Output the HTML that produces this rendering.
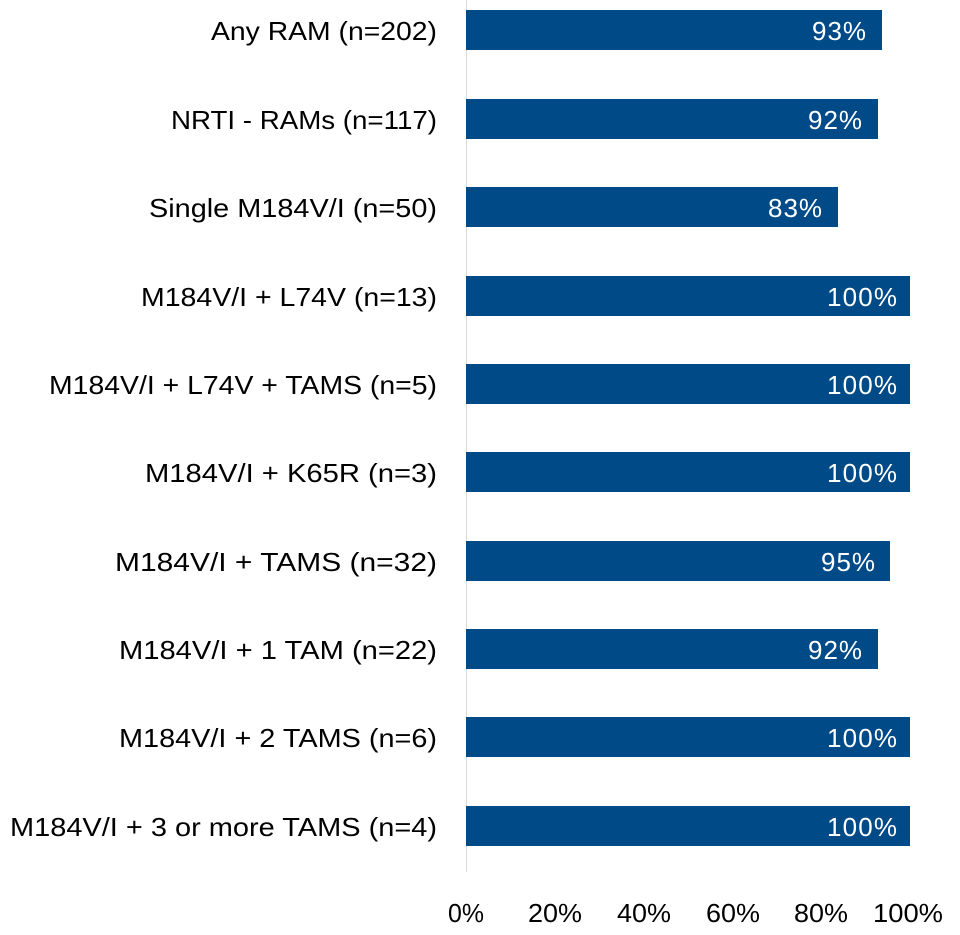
<!DOCTYPE html>
<html><head><style>
html,body{margin:0;padding:0;background:#fff;}
svg{display:block;font-family:"Liberation Sans",sans-serif;}
</style></head><body>
<svg width="960" height="935" xmlns="http://www.w3.org/2000/svg">
<line x1="466.5" y1="0" x2="466.5" y2="872" stroke="#d9d9d9" stroke-width="1"/>
<g fill="#004a87">
<rect x="466" y="10" width="416" height="40"/>
<rect x="466" y="99" width="412" height="40"/>
<rect x="466" y="187" width="372" height="40"/>
<rect x="466" y="276" width="444" height="40"/>
<rect x="466" y="364" width="444" height="40"/>
<rect x="466" y="452" width="444" height="40"/>
<rect x="466" y="541" width="424" height="40"/>
<rect x="466" y="629" width="412" height="40"/>
<rect x="466" y="717" width="444" height="40"/>
<rect x="466" y="806" width="444" height="40"/>
</g>
<g fill="#fff" font-size="26" text-anchor="end" lengthAdjust="spacingAndGlyphs">
<text x="866" y="40" textLength="54">93%</text>
<text x="862" y="129" textLength="54">92%</text>
<text x="822" y="217" textLength="54">83%</text>
<text x="897" y="306" textLength="70">100%</text>
<text x="897" y="394" textLength="70">100%</text>
<text x="897" y="482" textLength="70">100%</text>
<text x="875" y="571" textLength="54">95%</text>
<text x="862" y="659" textLength="54">92%</text>
<text x="897" y="747" textLength="70">100%</text>
<text x="897" y="836" textLength="70">100%</text>
</g>
<g fill="#000" font-size="26" text-anchor="end">
<text x="437" y="40" textLength="226" lengthAdjust="spacingAndGlyphs">Any RAM (n=202)</text>
<text x="437" y="129" textLength="266" lengthAdjust="spacingAndGlyphs">NRTI - RAMs (n=117)</text>
<text x="437" y="217" textLength="288" lengthAdjust="spacingAndGlyphs">Single M184V/I (n=50)</text>
<text x="437" y="306" textLength="296" lengthAdjust="spacingAndGlyphs">M184V/I + L74V (n=13)</text>
<text x="437" y="394" textLength="388" lengthAdjust="spacingAndGlyphs">M184V/I + L74V + TAMS (n=5)</text>
<text x="437" y="482" textLength="292" lengthAdjust="spacingAndGlyphs">M184V/I + K65R (n=3)</text>
<text x="437" y="571" textLength="322" lengthAdjust="spacingAndGlyphs">M184V/I + TAMS (n=32)</text>
<text x="437" y="659" textLength="318" lengthAdjust="spacingAndGlyphs">M184V/I + 1 TAM (n=22)</text>
<text x="437" y="747" textLength="318" lengthAdjust="spacingAndGlyphs">M184V/I + 2 TAMS (n=6)</text>
<text x="437" y="836" textLength="427" lengthAdjust="spacingAndGlyphs">M184V/I + 3 or more TAMS (n=4)</text>
</g>
<g fill="#000" font-size="26" text-anchor="middle">
<text x="466" y="922" textLength="36" lengthAdjust="spacingAndGlyphs">0%</text>
<text x="555" y="922" textLength="54" lengthAdjust="spacingAndGlyphs">20%</text>
<text x="644" y="922" textLength="54" lengthAdjust="spacingAndGlyphs">40%</text>
<text x="733" y="922" textLength="54" lengthAdjust="spacingAndGlyphs">60%</text>
<text x="821" y="922" textLength="54" lengthAdjust="spacingAndGlyphs">80%</text>
<text x="908" y="922" textLength="70" lengthAdjust="spacingAndGlyphs">100%</text>
</g>
</svg>
</body></html>
